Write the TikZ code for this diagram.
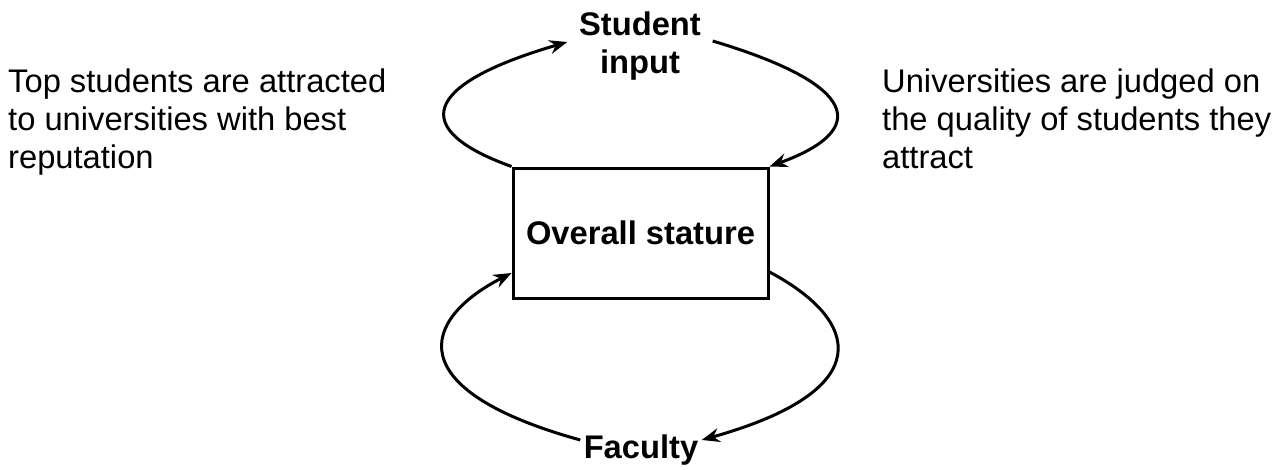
\documentclass[tikz,border=0pt]{standalone}
\usepackage{fontspec}
\setmainfont{Liberation Sans}
\usetikzlibrary{arrows.meta,calc}
\tikzset{
  txt/.style={font=\fontsize{32.7}{38}\selectfont, align=left, inner sep=0pt, anchor=north west},
  lbl/.style={font=\fontsize{32.7}{37.5}\selectfont\bfseries, align=center},
  loop/.style={line width=3pt, -{Stealth[length=18pt,width=14pt,inset=6pt]}},
  stbox/.style={draw, line width=3pt, minimum width=255pt, minimum height=130pt, inner sep=0pt, font=\fontsize{32.7}{36}\selectfont\bfseries}
}
\begin{document}
\begin{tikzpicture}[x=1pt,y=-1pt]
\useasboundingbox (0,0) rectangle (1272,469);
\node[stbox] (box) at (640.5,233) {Overall stature};
\node[lbl, inner sep=0pt, minimum width=145pt] (student) at (640,46) {Student\\input};
\node[lbl, inner sep=0pt, minimum width=121pt] (faculty) at (641,450) {Faculty};
\node[txt] (lt) at (8,69) {Top students are attracted\\to universities with best\\reputation};
\node[txt] (rt) at (882,69) {Universities are judged on\\the quality of students they\\attract};
% top loop
\draw[loop] (box.north west) .. controls (410,130) and (420,85) .. ($(student.west)+(0,-4)$);
\draw[loop] ($(student.east)+(0,-5)$) .. controls (860,85) and (870,130) .. (box.north east);
% bottom loop
\draw[loop] ($(box.east)+(0,39)$) .. controls (860,320) and (880,390) .. ($(faculty.east)+(0,-10)$);
\draw[loop] ($(faculty.west)+(0,-10)$) .. controls (400,390) and (420,320) .. ($(box.west)+(0,40)$);
\end{tikzpicture}
\end{document}
